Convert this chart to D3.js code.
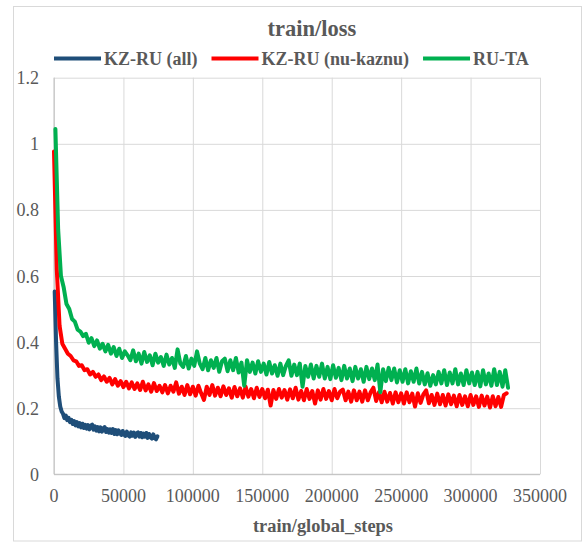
<!DOCTYPE html>
<html>
<head>
<meta charset="utf-8">
<script src="https://cdn.jsdelivr.net/npm/d3@7"></script>
<style>
  body { margin: 0; background: #fff; }
  text { font-family: "Liberation Serif", "Times New Roman", serif; fill: #595959; }
</style>
</head>
<body>
<svg width="584" height="542"></svg>
<script>
// tick labels
var xTicks = [0, 50000, 100000, 150000, 200000, 250000, 300000, 350000];
var yTicks = [0, 0.2, 0.4, 0.6, 0.8, 1, 1.2];

var seriesNames = ["KZ-RU (all)", "KZ-RU (nu-kaznu)", "RU-TA"];
var seriesColors = ["#1f4e79", "#ff0000", "#00b050"];

// KZ-RU (all): sampled every 1000 steps starting at 500
var blueStart = 500, blueEvery = 1000;
var blueLoss = [
  0.553, 0.40, 0.29, 0.235, 0.205, 0.19, 0.183, 0.17, 0.178, 0.164,
  0.171, 0.158, 0.165, 0.152, 0.161, 0.148, 0.158, 0.145, 0.155, 0.142,
  0.153, 0.14, 0.15, 0.138, 0.149, 0.136, 0.147, 0.15, 0.135, 0.145,
  0.132, 0.143, 0.13, 0.142, 0.129, 0.139, 0.143, 0.128, 0.137, 0.126,
  0.136, 0.125, 0.137, 0.122, 0.134, 0.121, 0.133, 0.124, 0.119, 0.131,
  0.12, 0.116, 0.129, 0.118, 0.114, 0.127, 0.117, 0.126, 0.113, 0.124,
  0.127, 0.114, 0.125, 0.112, 0.123, 0.114, 0.125, 0.11, 0.122, 0.112,
  0.108, 0.121, 0.11, 0.106, 0.115
];

// KZ-RU (nu-kaznu): sampled every 2000 steps starting at 0
var redStart = 0, redEvery = 2000;
var redLoss = [
  0.977, 0.62, 0.45, 0.395, 0.38, 0.365, 0.358, 0.345, 0.342, 0.328,
  0.33, 0.315, 0.318, 0.302, 0.31, 0.295, 0.302, 0.285, 0.296, 0.28,
  0.292, 0.272, 0.288, 0.268, 0.282, 0.264, 0.28, 0.26, 0.278, 0.258,
  0.275, 0.255, 0.28, 0.254, 0.272, 0.25, 0.276, 0.252, 0.268, 0.248,
  0.27, 0.245, 0.268, 0.25, 0.278, 0.244, 0.265, 0.24, 0.27, 0.242,
  0.265, 0.238, 0.268, 0.245, 0.225, 0.265, 0.24, 0.27, 0.238, 0.262,
  0.236, 0.266, 0.24, 0.26, 0.232, 0.264, 0.236, 0.26, 0.232, 0.265,
  0.235, 0.258, 0.23, 0.262, 0.234, 0.258, 0.23, 0.256, 0.208, 0.255,
  0.228, 0.258, 0.232, 0.255, 0.226, 0.257, 0.23, 0.262, 0.226, 0.252,
  0.224, 0.258, 0.228, 0.252, 0.214, 0.254, 0.226, 0.258, 0.228, 0.252,
  0.224, 0.258, 0.23, 0.25, 0.256, 0.224, 0.25, 0.22, 0.254, 0.224,
  0.25, 0.22, 0.254, 0.224, 0.248, 0.262, 0.222, 0.248, 0.218, 0.25,
  0.22, 0.246, 0.214, 0.248, 0.218, 0.245, 0.214, 0.248, 0.218, 0.244,
  0.205, 0.245, 0.216, 0.242, 0.254, 0.215, 0.24, 0.21, 0.244, 0.212,
  0.24, 0.208, 0.242, 0.212, 0.238, 0.206, 0.24, 0.21, 0.236, 0.206,
  0.24, 0.21, 0.236, 0.204, 0.238, 0.208, 0.235, 0.202, 0.236, 0.206,
  0.234, 0.204, 0.24, 0.245
];

// RU-TA: sampled every 2000 steps starting at 1000
var greenStart = 1000, greenEvery = 2000;
var greenLoss = [
  1.045, 0.74, 0.60, 0.565, 0.515, 0.50, 0.47, 0.462, 0.438, 0.432,
  0.418, 0.425, 0.398, 0.412, 0.388, 0.405, 0.38, 0.395, 0.372, 0.392,
  0.365, 0.385, 0.358, 0.38, 0.352, 0.372, 0.36, 0.345, 0.375, 0.342,
  0.365, 0.335, 0.37, 0.34, 0.36, 0.33, 0.365, 0.338, 0.355, 0.328,
  0.362, 0.332, 0.352, 0.322, 0.378, 0.335, 0.325, 0.358, 0.32, 0.35,
  0.328, 0.372, 0.335, 0.318, 0.352, 0.315, 0.345, 0.322, 0.352, 0.31,
  0.342, 0.35, 0.312, 0.345, 0.315, 0.352, 0.308, 0.338, 0.268, 0.345,
  0.31, 0.338, 0.305, 0.342, 0.31, 0.335, 0.302, 0.34, 0.305, 0.33,
  0.298, 0.335, 0.3, 0.328, 0.345, 0.298, 0.332, 0.3, 0.335, 0.265,
  0.328, 0.295, 0.332, 0.29, 0.328, 0.295, 0.335, 0.29, 0.325, 0.288,
  0.33, 0.292, 0.322, 0.285, 0.328, 0.29, 0.32, 0.282, 0.325, 0.29,
  0.318, 0.28, 0.325, 0.288, 0.32, 0.285, 0.332, 0.248, 0.318, 0.282,
  0.322, 0.285, 0.32, 0.278, 0.315, 0.28, 0.318, 0.275, 0.312, 0.28,
  0.32, 0.275, 0.31, 0.272, 0.306, 0.268, 0.3, 0.272, 0.31, 0.275,
  0.315, 0.27, 0.308, 0.275, 0.318, 0.272, 0.305, 0.27, 0.315, 0.275,
  0.308, 0.27, 0.31, 0.266, 0.315, 0.272, 0.305, 0.268, 0.318, 0.27,
  0.31, 0.265, 0.315, 0.262
];

var svg = d3.select("svg");

// plot area
var plotLeft = 54, plotRight = 540, plotTop = 77.7, plotBottom = 474.3;

var x = d3.scaleLinear().domain([0, 350000]).range([plotLeft, plotRight]);
var y = d3.scaleLinear().domain([0, 1.2]).range([plotBottom, plotTop]);

// chart border
svg.append("rect")
    .attr("x", 13.5).attr("y", 6.5)
    .attr("width", 568).attr("height", 534.5)
    .attr("fill", "none")
    .attr("stroke", "#d9d9d9");

// gridlines via axes
svg.append("g")
    .attr("class", "grid")
    .attr("transform", "translate(0," + plotBottom + ")")
    .call(d3.axisBottom(x).tickValues(xTicks).tickSize(-(plotBottom - plotTop)).tickFormat(""));
svg.append("g")
    .attr("class", "grid")
    .attr("transform", "translate(" + plotLeft + ",0)")
    .call(d3.axisLeft(y).tickValues(yTicks).tickSize(-(plotRight - plotLeft)).tickFormat(""));
svg.selectAll(".grid .domain").remove();
svg.selectAll(".grid .tick line").attr("stroke", "#d9d9d9").attr("stroke-width", 1);

// axis lines
svg.append("line").attr("x1", plotLeft).attr("x2", plotLeft).attr("y1", plotTop).attr("y2", plotBottom)
    .attr("stroke", "#bfbfbf");
svg.append("line").attr("x1", plotLeft).attr("x2", plotRight).attr("y1", plotBottom).attr("y2", plotBottom)
    .attr("stroke", "#bfbfbf");

// tick labels
svg.append("g").selectAll("text")
    .data(xTicks)
    .enter().append("text")
    .attr("x", function(d) { return x(d); })
    .attr("y", 502)
    .attr("text-anchor", "middle")
    .style("font-size", "18px")
    .text(function(d) { return d; });

svg.append("g").selectAll("text")
    .data(yTicks)
    .enter().append("text")
    .attr("x", 39)
    .attr("y", function(d) { return y(d) + 6.5; })
    .attr("text-anchor", "end")
    .style("font-size", "18px")
    .text(function(d) { return d; });

// lines
function toPoints(vals, start, every) {
    return vals.map(function(v, i) { return [start + i * every, v]; });
}
var series = [
    toPoints(blueLoss, blueStart, blueEvery),
    toPoints(redLoss, redStart, redEvery),
    toPoints(greenLoss, greenStart, greenEvery)
];

var line = d3.line()
    .x(function(d) { return x(d[0]); })
    .y(function(d) { return y(d[1]); });

svg.append("g").selectAll("path")
    .data(series)
    .enter().append("path")
    .attr("d", line)
    .attr("fill", "none")
    .attr("stroke", function(d, i) { return seriesColors[i]; })
    .attr("stroke-width", 4)
    .attr("stroke-linejoin", "round")
    .attr("stroke-linecap", "round");

// title
svg.append("text")
    .attr("x", 312).attr("y", 36)
    .attr("text-anchor", "middle")
    .style("font-size", "22.5px")
    .style("font-weight", "bold")
    .text("train/loss");

// x axis title
svg.append("text")
    .attr("x", 323).attr("y", 532)
    .attr("text-anchor", "middle")
    .style("font-size", "18.4px")
    .style("font-weight", "bold")
    .text("train/global_steps");

// legend
var legend = svg.append("g");
var lx = 54;
seriesNames.forEach(function(name, i) {
    legend.append("line")
        .attr("x1", lx).attr("x2", lx + 47)
        .attr("y1", 58.5).attr("y2", 58.5)
        .attr("stroke", seriesColors[i])
        .attr("stroke-width", 4);
    var t = legend.append("text")
        .attr("x", lx + 50).attr("y", 64.5)
        .style("font-size", "18px")
        .style("font-weight", "bold")
        .text(name);
    lx = lx + 50 + t.node().getComputedTextLength() + 14;
});
</script>
</body>
</html>
